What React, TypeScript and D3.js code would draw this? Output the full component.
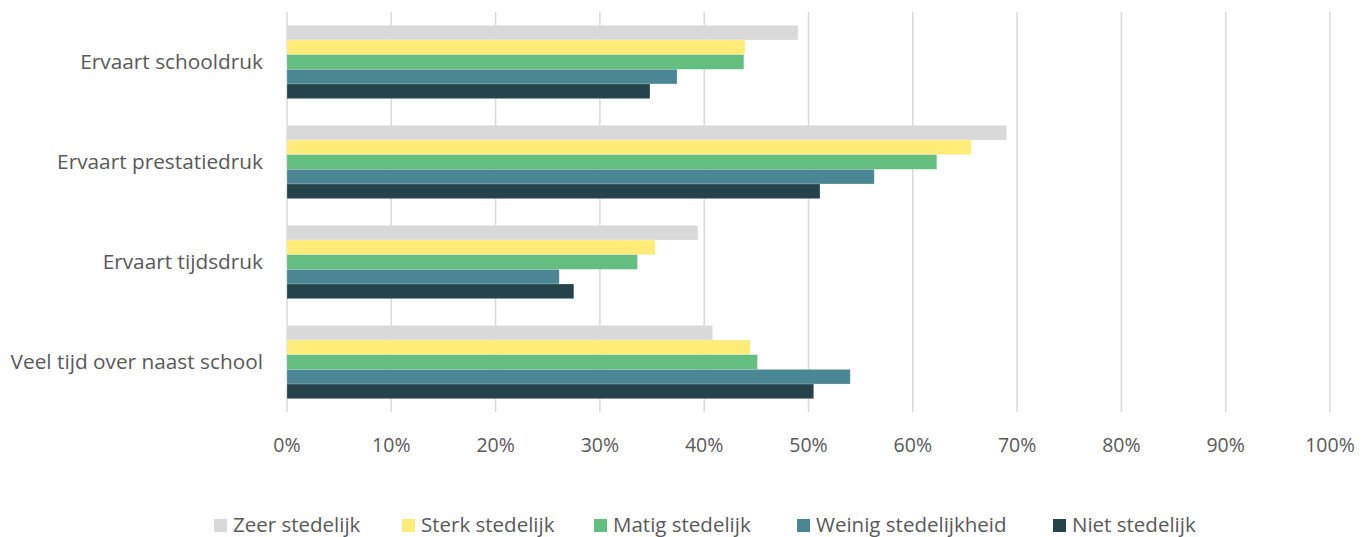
import React, { useEffect } from "react";
import * as d3 from "d3";

const categories = [
  "Ervaart schooldruk",
  "Ervaart prestatiedruk",
  "Ervaart tijdsdruk",
  "Veel tijd over naast school",
];
const seriesNames = [
  "Zeer stedelijk",
  "Sterk stedelijk",
  "Matig stedelijk",
  "Weinig stedelijkheid",
  "Niet stedelijk",
];
const zeerStedelijk = [49.0, 69.0, 39.4, 40.8];
const sterkStedelijk = [43.9, 65.6, 35.3, 44.4];
const matigStedelijk = [43.8, 62.3, 33.6, 45.1];
const weinigStedelijkheid = [37.4, 56.3, 26.1, 54.0];
const nietStedelijk = [34.8, 51.1, 27.5, 50.5];
const seriesValues = [zeerStedelijk, sterkStedelijk, matigStedelijk, weinigStedelijkheid, nietStedelijk];
const colors = ["#D9D9D9", "#FFEB78", "#63BE7F", "#4A8693", "#25434A"];
const tickValues = [0, 10, 20, 30, 40, 50, 60, 70, 80, 90, 100];

const W = 1371;
const H = 537;
const FONT = "'Open Sans', 'Noto Sans', sans-serif";

export default function App() {
  useEffect(() => {
    document.body.style.margin = "0";
  }, []);

  const x = d3.scaleLinear().domain([0, 100]).range([287, 1330]);
  const y0 = d3.scaleBand<string>().domain(categories).range([12, 412]).paddingInner(0.267).paddingOuter(0.133);
  const y1 = d3.scaleBand<string>().domain(seriesNames).range([0, y0.bandwidth()]);

  const legendX = [214, 402, 594, 797, 1053];

  return (
    <svg width={W} height={H} style={{ display: "block" }}>
      <rect width={W} height={H} fill="#fff" />
      {tickValues.map((t) => (
        <line key={t} x1={x(t)} x2={x(t)} y1={12} y2={412} stroke="#D9D9D9" strokeWidth={1.5} />
      ))}
      {categories.map((c, ci) => (
        <g key={c}>
          {seriesNames.map((s, si) => (
            <rect
              key={s}
              x={x(0)}
              y={(y0(c) as number) + (y1(s) as number)}
              width={x(seriesValues[si][ci]) - x(0)}
              height={y1.bandwidth()}
              fill={colors[si]}
              stroke="rgba(255,255,255,0.35)"
              strokeWidth={0.6}
            />
          ))}
          <text
            x={263}
            y={(y0(c) as number) + y0.bandwidth() / 2}
            dy="0.35em"
            textAnchor="end"
            fontFamily={FONT}
            fontSize={20.8}
            fill="#595959"
          >
            {c}
          </text>
        </g>
      ))}
      {tickValues.map((t) => (
        <text key={t} x={x(t)} y={445} dy="0.35em" textAnchor="middle" fontFamily={FONT} fontSize={19.5} fill="#595959">
          {t}%
        </text>
      ))}
      {seriesNames.map((s, si) => (
        <g key={s} transform={`translate(${legendX[si]}, 525)`}>
          <rect x={0} y={-6} width={13} height={13} fill={colors[si]} />
          <text x={19} y={0} dy="0.35em" fontFamily={FONT} fontSize={20.5} fill="#595959">
            {s}
          </text>
        </g>
      ))}
    </svg>
  );
}
